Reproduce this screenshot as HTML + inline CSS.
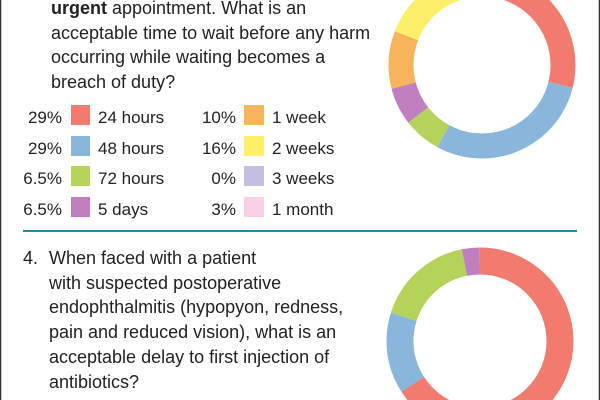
<!DOCTYPE html>
<html><head><meta charset="utf-8"><style>
html,body{margin:0;padding:0;background:#fff;overflow:hidden;}
svg{display:block;}
text{font-family:"Liberation Sans",Arial,sans-serif;font-size:17px;fill:#222;}
.q{font-size:18px;}
</style></head><body>
<svg width="600" height="400" viewBox="0 0 600 400">
<rect x="0" y="0" width="600" height="400" fill="#fff"/>
<line x1="0.5" y1="0" x2="0.5" y2="400" stroke="#333" stroke-width="1.5"/>
<line x1="599.5" y1="0" x2="599.5" y2="400" stroke="#333" stroke-width="1.5"/>
<text class="q" x="51" y="14"><tspan font-weight="bold">urgent</tspan> appointment. What is an</text>
<text class="q" x="51" y="39">acceptable time to wait before any harm</text>
<text class="q" x="51" y="63">occurring while waiting becomes a</text>
<text class="q" x="51" y="88">breach of duty?</text>
<g text-anchor="end">
<text x="62" y="123">29%</text><text x="62" y="154">29%</text><text x="62" y="184">6.5%</text><text x="62" y="215">6.5%</text>
<text x="236" y="123">10%</text><text x="236" y="154">16%</text><text x="236" y="184">0%</text><text x="236" y="215">3%</text>
</g>
<rect x="71" y="105" width="19" height="20" fill="#f07b6e"/>
<rect x="71" y="136" width="19" height="20" fill="#8ab6dc"/>
<rect x="71" y="166" width="19" height="20" fill="#b5d25a"/>
<rect x="71" y="197" width="19" height="20" fill="#c27fbf"/>
<rect x="244" y="105" width="20" height="20" fill="#f8b45c"/>
<rect x="244" y="136" width="20" height="20" fill="#fdef6a"/>
<rect x="244" y="166" width="20" height="20" fill="#c6bde0"/>
<rect x="244" y="197" width="20" height="20" fill="#f9d0e6"/>
<text x="98" y="123">24 hours</text><text x="98" y="154">48 hours</text><text x="98" y="184">72 hours</text><text x="98" y="215">5 days</text>
<text x="272" y="123">1 week</text><text x="272" y="154">2 weeks</text><text x="272" y="184">3 weeks</text><text x="272" y="215">1 month</text>
<line x1="23" y1="231" x2="577" y2="231" stroke="#1a8aa8" stroke-width="2"/>
<text class="q" x="23" y="264">4.</text>
<text class="q" x="49" y="264">When faced with a patient</text>
<text class="q" x="49" y="289">with suspected postoperative</text>
<text class="q" x="49" y="313">endophthalmitis (hypopyon, redness,</text>
<text class="q" x="49" y="338">pain and reduced vision), what is an</text>
<text class="q" x="49" y="363">acceptable delay to first injection of</text>
<text class="q" x="49" y="388">antibiotics?</text>
<g transform="translate(482,65) rotate(-90)" fill="none" stroke-width="25">
<circle r="81" pathLength="100" stroke="#f07b6e" stroke-dasharray="29 71" stroke-dashoffset="0"/>
<circle r="81" pathLength="100" stroke="#8ab6dc" stroke-dasharray="29 71" stroke-dashoffset="-29"/>
<circle r="81" pathLength="100" stroke="#b5d25a" stroke-dasharray="6.5 93.5" stroke-dashoffset="-58"/>
<circle r="81" pathLength="100" stroke="#c27fbf" stroke-dasharray="6.5 93.5" stroke-dashoffset="-64.5"/>
<circle r="81" pathLength="100" stroke="#f8b45c" stroke-dasharray="10 90" stroke-dashoffset="-71"/>
<circle r="81" pathLength="100" stroke="#fdef6a" stroke-dasharray="16 84" stroke-dashoffset="-81"/>
<circle r="81" pathLength="100" stroke="#f9d0e6" stroke-dasharray="3 97" stroke-dashoffset="-97"/>
</g>
<g transform="translate(480,341) rotate(-90)" fill="none" stroke-width="27">
<circle r="80" pathLength="100" stroke="#f07b6e" stroke-dasharray="66 34" stroke-dashoffset="0"/>
<circle r="80" pathLength="100" stroke="#8ab6dc" stroke-dasharray="14 86" stroke-dashoffset="-66"/>
<circle r="80" pathLength="100" stroke="#b5d25a" stroke-dasharray="17 83" stroke-dashoffset="-80"/>
<circle r="80" pathLength="100" stroke="#c27fbf" stroke-dasharray="3 97" stroke-dashoffset="-97"/>
</g>
</svg>
</body></html>
